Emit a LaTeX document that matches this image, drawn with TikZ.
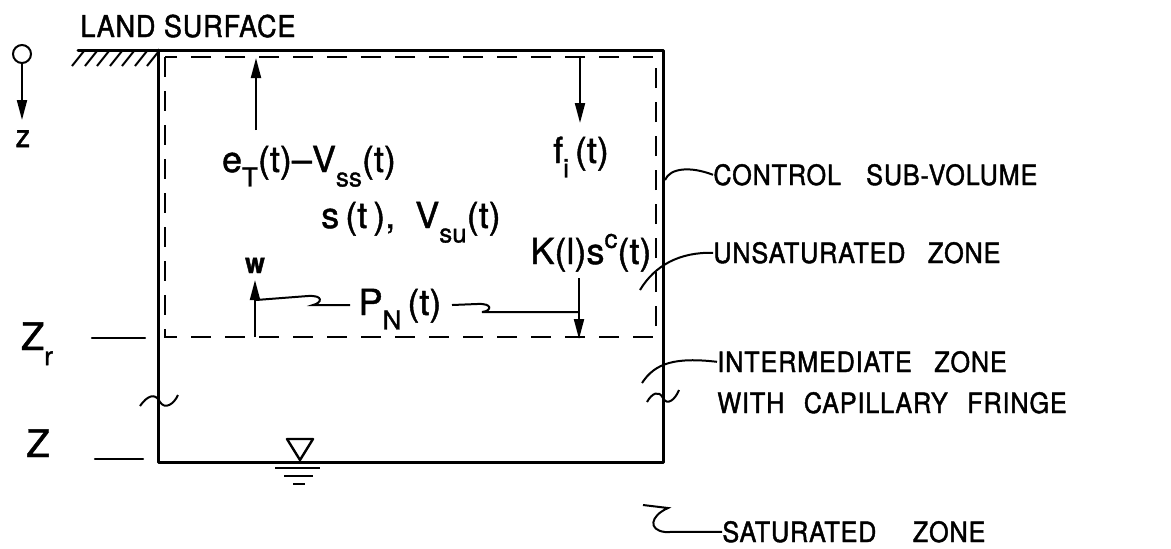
\documentclass[tikz,border=0pt]{standalone}
\usepackage{fontspec}
\setmainfont{TeX Gyre Heros}[FakeBold=1.2]
\newfontfamily\zonefam{TeX Gyre Heros}[FakeStretch=0.9, FakeBold=1.5, LetterSpace=3]
\usetikzlibrary{arrows.meta}
\newcommand\lbl{\fontsize{18}{20}\selectfont}
\newcommand\zonefont{\zonefam\fontsize{14}{16}\selectfont}
\newcommand\dn[1]{\raisebox{-0.4em}{\fontsize{13}{14}\selectfont #1}}
\newcommand\up[1]{\raisebox{0.45em}{\fontsize{13}{14}\selectfont #1}}
\tikzset{
  solidline/.style={line width=1.5pt, line cap=round, line join=round},
  dashline/.style={line width=1.2pt, dash pattern=on 10pt off 7pt},
  arr/.style={line width=1pt, -{Triangle[length=10pt,width=5pt]}},
  thin line/.style={line width=1pt},
  lbltext/.style={inner sep=0pt, anchor=base, font=\lbl},
  zonetext/.style={inner sep=0pt, anchor=base west, font=\zonefont},
}
\begin{document}
\begin{tikzpicture}[x=0.5pt,y=-0.5pt]
\useasboundingbox (0,0) rectangle (1171,548);
% land surface and outer box
\draw[solidline] (78,50) -- (663,50) -- (663,462) -- (158,462) -- (158,50);
\foreach \hx in {72,85,97,110,122,135,147}
  \draw[line width=1pt] (\hx,66) -- (\hx+12,51);
\node[zonetext, font=\zonefam\fontsize{15}{17}\selectfont] (land) at (80,37) {LAND SURFACE};
% origin
\node[draw, circle, line width=1pt, minimum size=9pt, inner sep=0pt] (orig) at (22,54) {};
\coordinate (ztip) at (22,120);
\draw[arr] (orig.south) -- (ztip);
\node[lbltext, font=\zonefam\fontsize{16}{17}\selectfont] (zlab) at (23,147) {z};
% control sub-volume
\draw[dashline] (165,57) rectangle (656,337);
% arrows
\coordinate (etbot) at (256,130);
\coordinate (ettop) at (256,58);
\draw[arr] (etbot) -- (ettop);
\coordinate (fitop) at (580,58);
\coordinate (fibot) at (580,123);
\draw[arr] (fitop) -- (fibot);
\node[lbltext] (et) at (309,172) {e\dn{T}(t)–V\dn{ss}(t)};
\node[lbltext] (fi) at (581,163) {f\dn{i}\,(t)};
\node[lbltext] (s) at (411,228) {s\,(t\,),\ \ V\dn{su}(t)};
\node[lbltext] (K) at (591,264) {K(l)s\up{c}(t)};
\coordinate (wbot) at (255,337);
\coordinate (wtip) at (255,280);
\draw[arr] (wbot) -- (wtip);
\node[lbltext, font=\zonefam\fontsize{14}{16}\selectfont\bfseries] (w) at (255,273) {w};
\coordinate (kbot) at (579,339);
\coordinate (ktop) at (579,278);
\draw[arr] (ktop) -- (kbot);
\node[lbltext] (PN) at (400,315) {P\dn{N}\,(t)};
% P_N leaders
\coordinate (pl0) at (256,300);
\coordinate (pl1) at (308,296);
\coordinate (pl2) at (350,305);
\draw[thin line] (pl0) -- (pl1) .. controls (324,295) and (322,303) .. (313,305) -- (pl2);
\coordinate (pr0) at (452,305);
\coordinate (pr1) at (477,304);
\coordinate (pr2) at (579,312);
\draw[thin line] (pr0) -- (pr1) .. controls (493,303) and (492,311) .. (482,312) -- (pr2);
% depth markers
\node[lbltext, font=\fontsize{19}{21}\selectfont] (Zr) at (37,350) {Z\dn{r}};
\draw[solidline, line width=1.2pt] (92,338) -- (145,338);
\node[lbltext, font=\fontsize{19}{21}\selectfont] (Z) at (38,457) {Z};
\draw[solidline, line width=1.2pt] (95,459) -- (143,459);
% water table
\draw[line width=1.2pt, line join=round] (287,439) -- (313,439) -- (300,460) -- cycle;
\draw[line width=1.2pt] (275,468) -- (320,468);
\draw[line width=1.2pt] (284,476) -- (313,476);
\draw[line width=1.2pt] (293,484) -- (305,484);
% break marks
\draw[thin line] (140,406) .. controls (147,396) and (155,392) .. (160,402) .. controls (165,410) and (174,404) .. (178,395);
\draw[thin line] (647,402) .. controls (652,393) and (659,390) .. (663,398) .. controls (667,406) and (675,400) .. (679,390);
% zone leaders and labels
\node[zonetext] (cv) at (713,185) {CONTROL\hspace{0.9em}SUB-VOLUME};
\coordinate (cv0) at (665,180);
\draw[thin line] (cv0) .. controls (670,168) and (690,166) .. (cv.west);
\node[zonetext] (uz) at (713,263) {UNSATURATED\hspace{0.8em}ZONE};
\coordinate (uz0) at (640,290);
\draw[thin line] (uz0) .. controls (655,265) and (680,252) .. (uz.west);
\node[zonetext] (iz) at (717,372) {INTERMEDIATE\hspace{0.8em}ZONE};
\node[zonetext] (cf) at (717,413) {WITH\hspace{0.7em}CAPILLARY\hspace{0.7em}FRINGE};
\coordinate (iz0) at (642,383);
\draw[thin line] (iz0) .. controls (655,363) and (675,357) .. (iz.west);
\node[zonetext] (sz) at (722,542) {SATURATED\hspace{1.3em}ZONE};
\coordinate (sz0) at (643,505);
\draw[thin line] (sz0) -- (668,508) .. controls (650,516) and (648,530) .. (665,532) -- (sz.west);
\end{tikzpicture}
\end{document}
